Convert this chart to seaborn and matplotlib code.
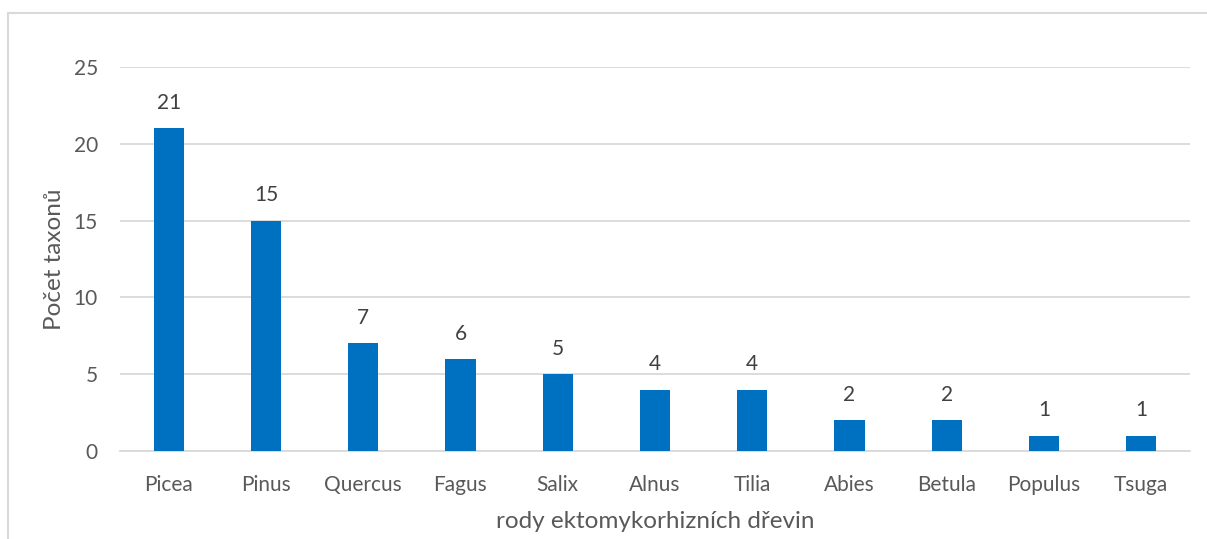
import matplotlib
matplotlib.use("Agg")
import matplotlib.pyplot as plt
import seaborn as sns
import pandas as pd

# Počet taxonů podle rodu ektomykorhizní dřeviny
rody = ["Picea", "Pinus", "Quercus", "Fagus", "Salix", "Alnus",
        "Tilia", "Abies", "Betula", "Populus", "Tsuga"]
pocty = [21, 15, 7, 6, 5, 4, 4, 2, 2, 1, 1]
y_ticks = [0, 5, 10, 15, 20, 25]

sns.set_theme(style="white")
plt.rcParams["font.family"] = ["Lato", "DejaVu Sans"]

text_color = "#595959"
grid_color = "#D9D9D9"
bar_color = "#0070C0"

df = pd.DataFrame({"rod": rody, "pocet": pocty})

fig = plt.figure(figsize=(12.07, 5.39), dpi=100)
ax = fig.add_axes([120 / 1207, 1 - 451 / 539, (1190 - 120) / 1207, (451 - 67) / 539])

sns.barplot(data=df, x="rod", y="pocet", color=bar_color, width=0.31,
            saturation=1, ax=ax, zorder=3, linewidth=0)

ax.set_ylim(0, 25)
ax.set_xlim(-0.5, len(rody) - 0.5)
ax.set_yticks(y_ticks)
ax.yaxis.grid(True, color=grid_color, linewidth=1.3, zorder=0)
ax.set_axisbelow(True)
for side in ["top", "right", "left"]:
    ax.spines[side].set_visible(False)
ax.spines["bottom"].set_color(grid_color)
ax.spines["bottom"].set_linewidth(1.3)
ax.tick_params(axis="both", length=0, labelsize=15, colors=text_color)
ax.tick_params(axis="x", pad=17)
ax.tick_params(axis="y", pad=16)

for container in ax.containers:
    ax.bar_label(container, labels=[str(v) for v in pocty], padding=11,
                 fontsize=15, color="#404040")

ax.set_xlabel("rody ektomykorhizních dřevin", fontsize=17.5, color=text_color,
              labelpad=12)
ax.set_ylabel("Počet taxonů", fontsize=17.5, color=text_color, labelpad=6)

# rámeček grafu
fig.add_artist(plt.Line2D([8 / 1207, 1.0], [1 - 13 / 539, 1 - 13 / 539],
                          color=grid_color, linewidth=1.5,
                          transform=fig.transFigure))
fig.add_artist(plt.Line2D([8 / 1207, 8 / 1207], [0, 1 - 13 / 539],
                          color=grid_color, linewidth=1.5,
                          transform=fig.transFigure))

fig.savefig("out.png", dpi=100)
